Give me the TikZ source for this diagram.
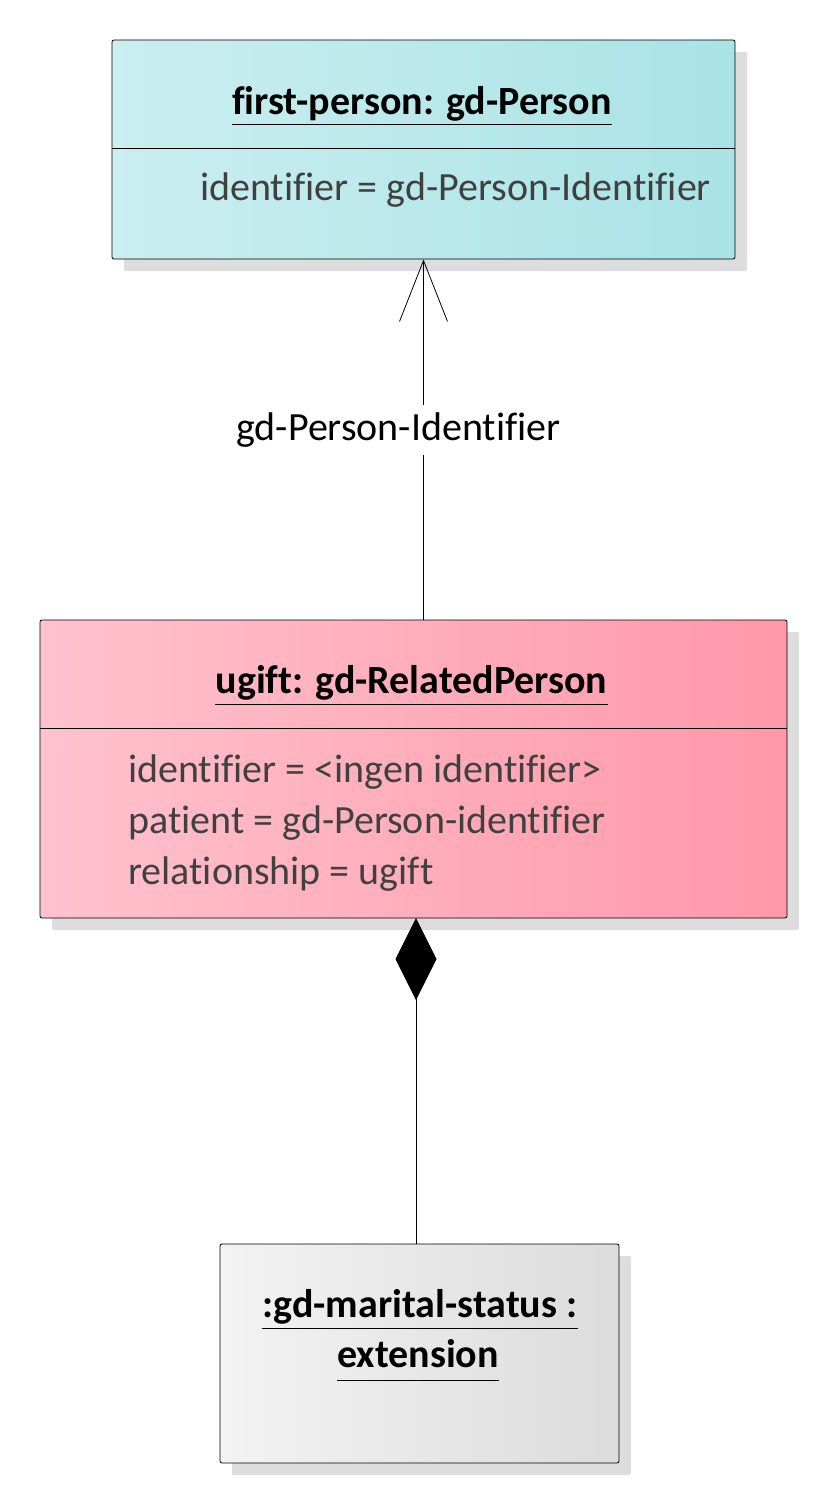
\documentclass[tikz,border=0pt]{standalone}
\usepackage{fontspec}
\setmainfont[Ligatures=NoCommon]{Carlito}
\usetikzlibrary{arrows.meta,shadows}

\definecolor{personleft}{HTML}{CBEEF0}
\definecolor{personright}{HTML}{A9E3E6}
\definecolor{relleft}{HTML}{FFC2CE}
\definecolor{relright}{HTML}{FF98A9}
\definecolor{extleft}{HTML}{F3F3F3}
\definecolor{extright}{HTML}{DCDCDC}
\definecolor{shadegray}{HTML}{DDDDDD}
\definecolor{attrgray}{HTML}{404040}

\tikzset{
  umlbox/.style={draw, line width=0.8pt, rounded corners=2pt, inner sep=0pt,
    general shadow={fill=shadegray, shadow xshift=12pt, shadow yshift=-12pt}},
  titletext/.style={font=\fontsize{40}{50}\selectfont\bfseries, inner sep=0pt, anchor=base},
  attrtext/.style={font=\fontsize{40}{51}\selectfont, text=attrgray, inner sep=0pt, anchor=base west},
  ruler/.style={line width=0.8pt}
}

\begin{document}
\begin{tikzpicture}[x=1pt, y=-1pt]
	\useasboundingbox (0,0) rectangle (828,1504);
	% first-person box
	\node[umlbox, left color=personleft, right color=personright, minimum width=623pt, minimum height=219pt] (person) at (423.5,149.5) {};
	\draw[ruler] (112,148) -- (735,148);% compartment line
	\node[titletext] (personttl) at (422,114) {first-person: gd-Person};
	\draw[ruler] ([yshift=-10pt]personttl.base west) -- ([yshift=-10pt]personttl.base east);
	\node[attrtext] (personattr) at (200,200) {identifier = gd-Person-Identifier};
	% ugift box
	\node[umlbox, left color=relleft, right color=relright, minimum width=747pt, minimum height=298pt] (related) at (413.5,769) {};
	\draw[ruler] (40,728) -- (787,728);% compartment line
	\node[titletext] (relatedttl) at (411.5,693) {ugift: gd-RelatedPerson};
	\draw[ruler] ([yshift=-11pt]relatedttl.base west) -- ([yshift=-11pt]relatedttl.base east);
	\node[attrtext] (relattr1) at (128,782) {identifier = <ingen identifier>};
	\node[attrtext] (relattr2) at (128,833) {patient = gd-Person-identifier};
	\node[attrtext] (relattr3) at (128,884) {relationship = ugift};
	% extension box
	\node[umlbox, left color=extleft, right color=extright, minimum width=399pt, minimum height=219pt] (marital) at (419.5,1353.5) {};
	\node[titletext] (maritalttl) at (420,1317) {:gd-marital-status :};
	\draw[ruler] ([yshift=-11pt]maritalttl.base west) -- ([yshift=-11pt]maritalttl.base east);
	\node[titletext] (maritalext) at (418,1367) {extension};
	\draw[ruler] ([yshift=-13pt]maritalext.base west) -- ([yshift=-13pt]maritalext.base east);
	% connectors
	\coordinate (assocfoot) at (related.north -| person.south);
	\draw[ruler, -{Straight Barb[length=61pt, width=48pt, line width=0.8pt]}] (assocfoot) -- (person.south);
	\node[fill=white, inner sep=0pt, minimum height=50pt, font=\fontsize{40}{50}\selectfont] (assoclbl) at (398.5,430) {gd-Person-Identifier};
	\coordinate (comptop) at (416,918);
	\coordinate (compfoot) at (416,1244);
	\draw[ruler, {Diamond[length=82pt, width=41pt]}-] (comptop) -- (compfoot);
\end{tikzpicture}
\end{document}
